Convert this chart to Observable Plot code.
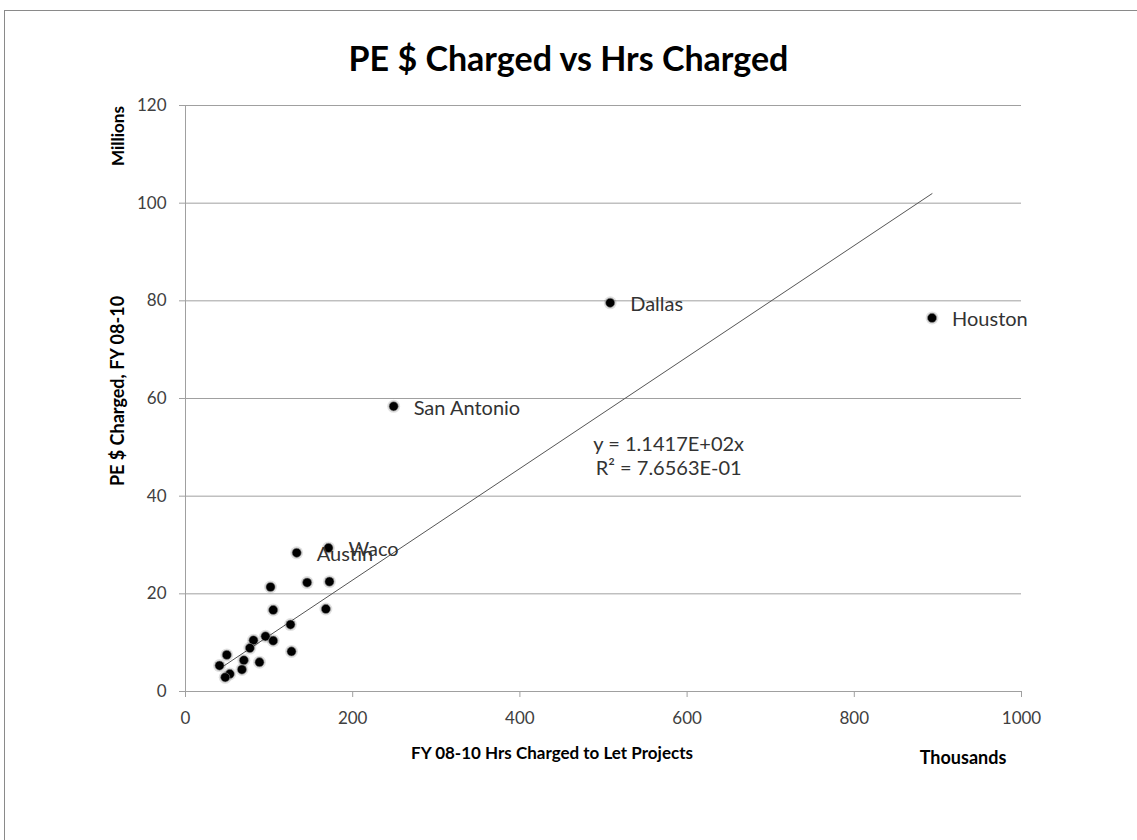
<!DOCTYPE html>
<html>
<head>
<meta charset="utf-8">
<script src="https://cdn.jsdelivr.net/npm/d3@7"></script>
<script src="https://cdn.jsdelivr.net/npm/@observablehq/plot@0.6"></script>
<style>
  html, body { margin: 0; padding: 0; background: #fff; }
  #wrap { position: relative; width: 1137px; height: 840px; overflow: hidden; font-family: Lato, "Open Sans", sans-serif; }
  #frame { position: absolute; left: 4px; top: 10px; width: 1200px; height: 900px; border-left: 1px solid #8a8a8a; border-top: 1px solid #8a8a8a; }
  #title { position: absolute; left: 0; width: 1137px; top: 37px; text-align: center; font-weight: bold; font-size: 34px; color: #000; font-family: Lato, sans-serif; }
  .lbl { position: absolute; font-weight: bold; font-size: 17px; color: #000; white-space: nowrap; }
  #chart { position: absolute; left: 0; top: 0; }
</style>
</head>
<body>
<div id="wrap">
  <div id="frame"></div>
  <div id="chart"></div>
  <div id="title">PE $ Charged vs Hrs Charged</div>
  <div class="lbl" id="ytitle" style="left:117px; top:391px; font-size:18px; transform: translate(-50%,-50%) rotate(-90deg);">PE $ Charged, FY 08-10</div>
  <div class="lbl" id="yunit" style="left:117px; top:136px; transform: translate(-50%,-50%) rotate(-90deg);">Millions</div>
  <div class="lbl" id="xtitle" style="left:552px; top:752px; transform: translate(-50%,-50%);">FY 08-10 Hrs Charged to Let Projects</div>
  <div class="lbl" id="xunit" style="left:963px; top:757px; font-size:18px; transform: translate(-50%,-50%);">Thousands</div>
</div>
<script>
// Data (x: thousand hours charged, y: million $ charged)
const hrs = [893, 508, 249, 171, 133, 101.7, 145.5, 172.2, 104.9, 167.9, 125.6, 95.7, 81.3, 104.9, 77, 49.4, 126.8, 69.8, 88.5, 40.7, 67.5, 53, 47.5];
const dollars = [76.5, 79.6, 58.4, 29.4, 28.4, 21.4, 22.3, 22.5, 16.7, 16.9, 13.7, 11.3, 10.5, 10.4, 8.9, 7.5, 8.2, 6.4, 6.0, 5.3, 4.5, 3.6, 2.9];
const names = ["Houston", "Dallas", "San Antonio", "Waco", "Austin", "", "", "", "", "", "", "", "", "", "", "", "", "", "", "", "", "", ""];
const xTicks = [0, 200, 400, 600, 800, 1000];
const yTicks = [0, 20, 40, 60, 80, 100, 120];
const slope = 0.11417; // y = 1.1417E+02x (hrs in thousands, $ in millions)
const eqLines = ["y = 1.1417E+02x", "R² = 7.6563E-01"];

const pts = hrs.map((x, i) => ({x, y: dollars[i], name: names[i]}));
const xmin = d3.min(hrs), xmax = d3.max(hrs);
const trend = [{x: xmin, y: slope * xmin}, {x: xmax, y: slope * xmax}];

const plot = Plot.plot({
  width: 1137,
  height: 840,
  marginTop: 105,
  marginBottom: 149,
  marginLeft: 185,
  marginRight: 116,
  style: {fontFamily: "Lato, sans-serif", fontSize: "17px", color: "#404040", background: "transparent"},
  x: {domain: [0, 1000]},
  y: {domain: [0, 120]},
  marks: [
    Plot.gridY(yTicks, {stroke: "#a0a0a0", strokeOpacity: 1}),
    Plot.ruleX([0], {stroke: "#a0a0a0"}),
    Plot.ruleY([0], {stroke: "#a0a0a0"}),
    Plot.axisX({ticks: xTicks, tickFormat: d => String(d), tickSize: 6, tickPadding: 14, stroke: "#a0a0a0", label: null, fill: "#404040"}),
    Plot.axisY({ticks: yTicks, tickFormat: d => String(d), tickSize: 6, tickPadding: 13, stroke: "#a0a0a0", label: null, fill: "#404040"}),
    Plot.line(trend, {x: "x", y: "y", stroke: "#555", strokeWidth: 1}),
    Plot.dot(pts, {x: "x", y: "y", r: 6.5, fill: "#000", fillOpacity: 0.12, stroke: "none"}),
    Plot.dot(pts, {x: "x", y: "y", r: 4.6, fill: "#000", stroke: "#888", strokeWidth: 1, strokeOpacity: 0.6}),
    Plot.text(pts.filter(d => d.name), {x: "x", y: "y", text: "name", dx: 20, dy: 2, textAnchor: "start", fill: "#333", fontSize: 20}),
    Plot.text([eqLines[0]], {x: 578, y: 50.6, text: d => d, fill: "#333", fontSize: 20}),
    Plot.text([eqLines[1]], {x: 578, y: 45.6, text: d => d, fill: "#333", fontSize: 20})
  ]
});
document.getElementById("chart").appendChild(plot);
</script>
</body>
</html>
